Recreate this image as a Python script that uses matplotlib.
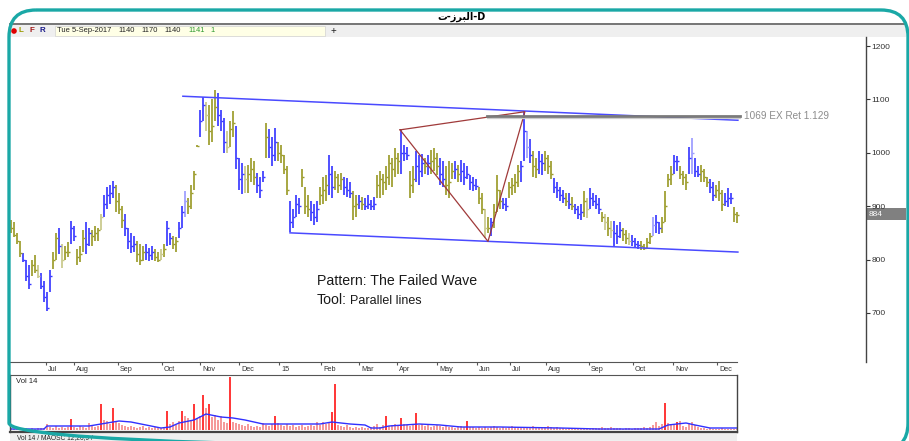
import matplotlib
matplotlib.use("Agg")
import matplotlib.pyplot as plt
import numpy as np
from matplotlib.patches import FancyBboxPatch, Rectangle, Circle

plt.rcParams['font.family'] = ['Liberation Sans', 'DejaVu Sans']

# ---------------- data ----------------
highs = [874, 870, 850, 835, 812, 800, 790, 800, 808, 790,
         775, 760, 740, 780, 815, 850, 860, 830, 825, 832,
         872, 862, 820, 825, 855, 870, 860, 855, 862, 860,
         885, 920, 935, 940, 947, 940, 925, 900, 885, 860,
         850, 845, 835, 830, 825, 830, 822, 825, 820, 815,
         820, 830, 872, 850, 845, 842, 870, 900, 928, 915,
         940, 966, 1015, 1080, 1104, 1095, 1090, 1100, 1118, 1112,
         1080, 1065, 1040, 1060, 1078, 1050, 990, 980, 975, 978,
         990, 985, 962, 955, 965, 1056, 1045, 1030, 1047, 1020,
         1015, 995, 975, 910, 895, 920, 915, 970, 935, 920,
         910, 905, 910, 935, 955, 958, 996, 975, 966, 960,
         962, 955, 953, 945, 928, 920, 920, 918, 915, 920,
         912, 918, 958, 966, 960, 975, 996, 990, 1009, 1000,
         1043, 1015, 1010, 966, 975, 1003, 995, 998, 990, 996,
         1005, 1009, 1000, 990, 985, 975, 985, 980, 985, 978,
         986, 980, 975, 958, 955, 950, 935, 925, 895, 880,
         878, 905, 958, 930, 915, 915, 945, 953, 960, 977,
         985, 1078, 1041, 1025, 1003, 990, 1003, 998, 1003, 995,
         985, 953, 945, 935, 930, 925, 925, 918, 905, 900,
         905, 928, 915, 934, 925, 920, 915, 890, 885, 880,
         872, 872, 865, 870, 860, 855, 850, 846, 840, 835,
         835, 830, 840, 850, 880, 883, 870, 880, 928, 960,
         975, 996, 994, 975, 966, 960, 1010, 1028, 990, 975,
         977, 970, 955, 950, 945, 940, 947, 930, 925, 934,
         925, 898, 890]
lows = [850, 842, 830, 805, 795, 760, 745, 770, 775, 765,
        745, 720, 704, 740, 782, 800, 810, 785, 800, 805,
        830, 835, 790, 795, 815, 810, 825, 825, 835, 835,
        855, 880, 895, 905, 915, 890, 885, 860, 845, 820,
        812, 815, 795, 790, 797, 800, 798, 800, 798, 796,
        800, 805, 825, 828, 820, 815, 840, 860, 880, 885,
        895, 930, 1010, 1030, 1060, 1040, 1015, 1020, 1060, 1050,
        1040, 1000, 1000, 1010, 1030, 970, 930, 922, 925, 925,
        945, 940, 925, 915, 945, 990, 990, 975, 985, 985,
        980, 960, 920, 852, 860, 880, 885, 935, 885, 880,
        872, 865, 870, 902, 905, 910, 920, 915, 930, 925,
        930, 920, 918, 915, 875, 880, 895, 892, 892, 895,
        892, 893, 915, 915, 920, 930, 940, 935, 955, 960,
        960, 985, 986, 915, 925, 945, 940, 955, 960, 958,
        960, 965, 958, 940, 935, 920, 915, 950, 950, 945,
        945, 940, 950, 930, 928, 930, 905, 885, 840, 850,
        845, 860, 890, 895, 895, 891, 915, 921, 925, 935,
        945, 985, 990, 980, 955, 953, 960, 958, 965, 960,
        950, 925, 915, 910, 906, 900, 895, 893, 885, 876,
        875, 880, 878, 895, 900, 895, 885, 870, 855, 845,
        840, 825, 830, 840, 835, 830, 827, 825, 822, 820,
        818, 818, 822, 830, 845, 850, 848, 850, 870, 935,
        940, 960, 965, 950, 940, 930, 960, 960, 955, 955,
        945, 945, 935, 925, 910, 915, 910, 891, 900, 898,
        905, 870, 868]
closes = [860, 846, 835, 812, 800, 770, 755, 790, 780, 770,
          750, 730, 710, 770, 800, 840, 825, 800, 815, 815,
          860, 845, 805, 810, 840, 830, 850, 845, 850, 855,
          880, 905, 920, 925, 935, 910, 895, 875, 860, 835,
          825, 830, 810, 800, 815, 815, 808, 815, 805, 800,
          810, 820, 860, 840, 830, 835, 860, 890, 910, 900,
          925, 960, 1013, 1060, 1090, 1070, 1040, 1050, 1085, 1070,
          1060, 1020, 1010, 1045, 1055, 990, 950, 960, 950, 960,
          970, 955, 940, 930, 955, 1030, 1010, 995, 1020, 1000,
          995, 970, 930, 870, 880, 905, 900, 955, 900, 895,
          890, 880, 895, 920, 930, 940, 960, 935, 955, 940,
          950, 935, 930, 925, 900, 905, 910, 905, 900, 905,
          900, 905, 940, 950, 945, 955, 980, 970, 990, 985,
          1000, 1000, 995, 940, 950, 975, 965, 980, 975, 980,
          985, 990, 975, 960, 950, 940, 945, 965, 970, 960,
          965, 955, 960, 945, 940, 938, 915, 895, 860, 860,
          870, 890, 930, 910, 905, 900, 935, 940, 945, 965,
          975, 1040, 1010, 995, 975, 970, 985, 980, 990, 975,
          960, 935, 930, 920, 915, 910, 905, 900, 895, 885,
          890, 910, 895, 915, 910, 905, 895, 880, 870, 860,
          855, 850, 845, 855, 848, 840, 835, 835, 830, 828,
          825, 822, 832, 845, 865, 870, 860, 870, 900, 950,
          960, 985, 985, 960, 955, 945, 990, 1000, 965, 960,
          965, 955, 945, 935, 920, 930, 925, 905, 910, 915,
          915, 885, 884]
# o = olive, b = blue, l = light olive, c = light blue
bar_colors = ("oooobbbool" "bbbboobloo" "bbooobbooo" "lbbbbooobb" "bbooobbboo"
              "lobboobbco" "ooobblooob" "bbloobbblo" "oobbbobbbo" "ooobbbbooo"
              "bbbooobboo" "obbboobobb" "bboooooooo" "bbboobbbob" "ooobbooobo"
              "bbbbbboolo" "booobboooo" "bbcboobboo" "obbbbobobb" "bolbbbbolo"
              "lbbboolbbb" "oooocbbooo" "obbooobcbb" "ooobbooobb" "boo")

volume = [2, 1, 2, 1, 2, 2, 1, 2, 1, 2,
          2, 2, 6, 3, 2, 4, 2, 3, 2, 3,
          11, 3, 2, 4, 3, 2, 7, 5, 3, 4,
          26, 10, 9, 6, 22, 8, 7, 5, 4, 3,
          4, 3, 2, 3, 4, 2, 3, 2, 3, 2,
          2, 3, 19, 6, 8, 5, 9, 19, 14, 12,
          10, 26, 12, 14, 35, 22, 26, 13, 15, 10,
          14, 8, 7, 53, 8, 7, 6, 5, 4, 6,
          4, 3, 4, 3, 7, 5, 4, 6, 14, 7,
          5, 4, 6, 4, 5, 3, 4, 5, 3, 4,
          5, 4, 8, 5, 8, 6, 8, 18, 46, 5,
          4, 3, 5, 3, 2, 3, 2, 3, 2, 2,
          3, 4, 6, 3, 5, 14, 4, 5, 6, 4,
          12, 6, 5, 4, 5, 17, 5, 6, 4, 5,
          3, 4, 5, 4, 3, 4, 3, 3, 2, 3,
          4, 3, 9, 3, 3, 2, 3, 2, 3, 2,
          3, 4, 3, 2, 3, 2, 3, 4, 3, 2,
          3, 3, 2, 3, 4, 2, 3, 2, 3, 4,
          3, 2, 3, 2, 2, 1, 2, 2, 2, 1,
          2, 2, 2, 1, 2, 2, 2, 3, 2, 2,
          3, 2, 2, 2, 1, 2, 2, 1, 2, 2,
          2, 3, 2, 3, 5, 8, 4, 6, 27, 7,
          6, 5, 8, 9, 4, 3, 7, 8, 5, 3,
          2, 2, 1, 2, 1, 1, 1, 2, 1, 1,
          1, 1, 1]
vol_dark = [20, 30, 34, 52, 57, 61, 64, 66, 73, 88, 107, 108,
            125, 130, 135, 152, 218, 222]
ma_idx = [0, 11, 12, 26, 30, 34, 36, 40, 45, 50, 53, 56, 61, 65, 70, 74,
          78, 84, 88, 103, 107, 113, 118, 120, 123, 126, 131, 136, 143,
          150, 163, 183, 196, 216, 219, 225, 228, 233, 242]
ma_val = [1, 1, 4, 4, 6, 8, 9, 8, 5, 2, 3, 7, 10, 16, 13, 12,
          10, 6, 6, 6, 8, 6, 5, 2, 2, 4, 5, 6, 5,
          3, 3, 2, 1, 1, 5, 7, 5, 2, 2]

month_pos = [11.7, 21, 35.7, 50.3, 63, 76, 89.3, 103.3, 116, 128.7,
             142, 155.3, 166.3, 178.3, 192.7, 207.3, 220.7, 235.3]
month_lbl = ["Jul", "Aug", "Sep", "Oct", "Nov", "Dec", "15", "Feb", "Mar",
             "Apr", "May", "Jun", "Jul", "Aug", "Sep", "Oct", "Nov", "Dec"]
price_ticks = [700, 800, 900, 1000, 1100, 1200]
last_price = 884

upper_x, upper_y = [57.3, 242.3], [1106, 1061]
lower_x, lower_y = [93, 242.3], [850, 814]
wave_x = [129.7, 159, 171.3, 129.7]
wave_y = [1043, 834, 1077, 1043]
ret_x = [158.7, 243]
ret_level = 1069

title = "\uFE95-\uFEAF\uFEAE\uFE92\uFEDF\uFE8D-D"

# ---------------- figure ----------------
W, H = 909, 441
fig = plt.figure(figsize=(W / 100, H / 100), dpi=100)
fig.patch.set_facecolor("white")


def rect(x0, y0, x1, y1):
    return [x0 / W, 1 - y1 / H, (x1 - x0) / W, (y1 - y0) / H]


bg = fig.add_axes([0, 0, 1, 1], zorder=0)
bg.set_xlim(0, W)
bg.set_ylim(H, 0)
bg.axis("off")

# header + toolbar
bg.add_patch(Rectangle((10, 24.5), 896, 12, fc="#efefef", ec="none"))
bg.plot([10, 906], [24, 24], color="#6a6a6a", lw=1.3)
bg.text(461, 17, title, ha="center", va="center", fontsize=7,
        fontweight="bold", family=["DejaVu Sans"])
bg.add_patch(Circle((14, 31), 2.8, fc="#e00000", ec="none"))
bg.text(18.5, 31, "L", color="#9a9a00", fontsize=5.8, fontweight="bold", va="center")
bg.text(29, 31, "F", color="#a01818", fontsize=5.8, fontweight="bold", va="center")
bg.text(40, 31, "R", color="#1a1a8a", fontsize=5.8, fontweight="bold", va="center")
bg.add_patch(Rectangle((55, 25.5), 270, 10.5, fc="#ffffe6", ec="#d2d2d2", lw=0.5))
bg.text(57, 31, "Tue 5-Sep-2017", fontsize=5.4, va="center", color="#222")
for xx, s, c in [(118, "1140", "#222"), (141, "1170", "#222"), (164, "1140", "#222"),
                 (188, "1141", "#2e9a2e"), (210, "1", "#2e9a2e")]:
    bg.text(xx, 31, s, fontsize=5.4, va="center", color=c)
bg.text(333, 31, "+", fontsize=7, va="center", ha="center", color="#222")

# bottom tab row
bg.add_patch(Rectangle((10, 433), 727, 9, fc="#efefef", ec="none"))
bg.text(17, 437.5, "Vol 14 / MAOSC 12,26,9 /", fontsize=4.8, va="center", color="#222")

# ---------------- price panel ----------------
cmap = {"o": "#9c9c2c", "b": "#3a3aff", "l": "#c8c88a", "c": "#9c9cff"}
idx = np.arange(len(highs))
cols = [cmap[c] for c in bar_colors]

ax = fig.add_axes(rect(10, 37, 866, 362), zorder=1)
ax.set_facecolor("none")
ax.set_xlim(-0.333, 285)
ax.set_ylim(608, 1217)
for s in ["left", "top", "bottom"]:
    ax.spines[s].set_visible(False)
ax.spines["right"].set_color("#444")
ax.spines["right"].set_linewidth(1.0)
ax.set_xticks([])
ax.yaxis.tick_right()
ax.set_yticks(price_ticks)
ax.tick_params(axis="y", direction="out", length=3, width=0.8, labelsize=6,
               colors="#333", pad=1)

ax.vlines(idx, lows, highs, colors=cols, lw=1.25)
ax.hlines(closes, idx, idx + 0.65, colors=cols, lw=1.0)

ax.plot(upper_x, upper_y, color="#4a4aff", lw=1.1)
ax.plot(lower_x, lower_y, color="#4a4aff", lw=1.1)
ax.plot(wave_x, wave_y, color="#a03a3a", lw=0.9)
ax.plot(ret_x, [ret_level - 3, ret_level - 3], color="#cccccc", lw=0.9)
ax.plot(ret_x, [ret_level, ret_level], color="#7a7a7a", lw=2.0)
ax.text(244.3, ret_level, "1069 EX Ret 1.129", color="#8c8c8c", fontsize=7.2,
        va="center", ha="left")

# last price tag
bg.add_patch(Rectangle((866, 208), 40, 12, fc="#808080", ec="none", zorder=3))
bg.text(869, 214.2, str(last_price), color="white", fontsize=6, va="center", zorder=4)

bg.text(317, 281, "Pattern: The Failed Wave", fontsize=10.2,
        va="center", color="#1a1a1a")
bg.text(317, 300, "Tool:", fontsize=10.2, va="center", color="#1a1a1a")
bg.text(350, 301, "Parallel lines", fontsize=9, va="center", color="#1a1a1a")

# ---------------- date strip ----------------
dx = fig.add_axes(rect(10, 362, 737, 375), zorder=1)
dx.set_facecolor("none")
dx.set_xlim(-0.333, 242)
dx.set_ylim(0, 1)
dx.spines["left"].set_visible(False)
dx.spines["right"].set_visible(False)
dx.spines["top"].set_color("#555")
dx.spines["bottom"].set_color("#555")
dx.set_yticks([])
dx.set_xticks(month_pos)
dx.tick_params(axis="x", top=True, bottom=False, direction="in", length=2.5,
               width=0.8, colors="#555", labeltop=False, labelbottom=False)
for p, lbl in zip(month_pos, month_lbl):
    dx.text(p + 0.7, 0.42, lbl, fontsize=5.2, va="center", ha="left", color="#333")

# ---------------- volume panel ----------------
vx = fig.add_axes(rect(10, 375, 737, 432), zorder=1)
vx.set_facecolor("none")
vx.set_xlim(-0.333, 242)
vx.set_ylim(-2, 55)
vcols = ["#ff3a3a" if i in vol_dark else "#f59a9a" for i in idx]
vx.bar(idx, volume, width=0.55, color=vcols, bottom=0)
vx.plot(ma_idx, ma_val, color="#3030ff", lw=1.0)
for s in vx.spines.values():
    s.set_color("#444")
    s.set_linewidth(1.0)
vx.spines["bottom"].set_linewidth(1.6)
vx.spines["top"].set_visible(False)
vx.set_xticks([])
vx.set_yticks([])
vx.text(0.008, 0.88, "Vol 14", transform=vx.transAxes, fontsize=5.5, va="center",
        color="#222")

# ---------------- teal frame ----------------
top = fig.add_axes([0, 0, 1, 1], zorder=10)
top.set_xlim(0, W)
top.set_ylim(H, 0)
top.axis("off")
top.add_patch(FancyBboxPatch((9, 10), 899, 440, boxstyle="round,pad=0,rounding_size=27",
                             fill=False, ec="#1aa8a6", lw=2.4, clip_on=False))

fig.savefig("out.png", dpi=100)
